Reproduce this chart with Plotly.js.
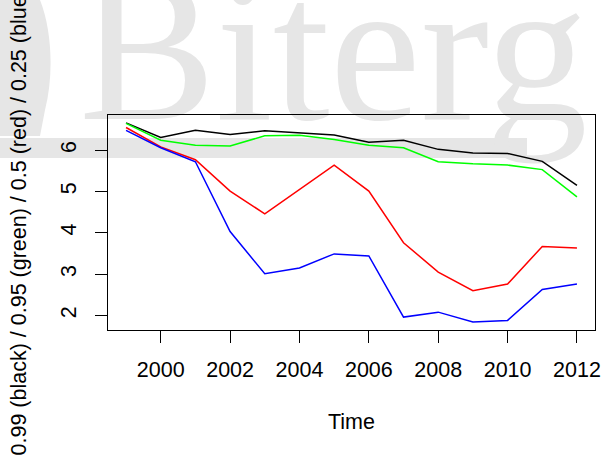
<!DOCTYPE html>
<html>
<head>
<meta charset="utf-8">
<script src="https://cdn.plot.ly/plotly-3.0.1.min.js"></script>
<style>
html,body{margin:0;padding:0;background:#fff;}
#chart{width:604px;height:456px;}
</style>
</head>
<body>
<div id="chart"></div>
<script>
// Data
var years = [1999,2000,2001,2002,2003,2004,2005,2006,2007,2008,2009,2010,2011,2012];
var q099 = [6.66,6.31,6.48,6.38,6.47,6.42,6.37,6.19,6.24,6.02,5.93,5.92,5.73,5.15];
var q095 = [6.65,6.24,6.12,6.10,6.35,6.36,6.26,6.12,6.06,5.72,5.67,5.64,5.53,4.87];
var q050 = [6.55,6.08,5.77,5.01,4.46,5.06,5.64,5.01,3.76,3.05,2.60,2.76,3.67,3.63];
var q025 = [6.48,6.06,5.72,4.03,3.01,3.15,3.49,3.44,1.96,2.08,1.84,1.88,2.63,2.76];
var xTicks = [2000,2002,2004,2006,2008,2010,2012];
var yTicks = [2,3,4,5,6];
var xTitle = 'Time';
var yTitle = '0.99 (black) / 0.95 (green) / 0.5 (red) / 0.25 (blue)';
var watermark = 'Biterg';

// plot-area geometry (pixels) for placing decorations
var L = 108, R = 9, T = 115, B = 126, W = 604, H = 456;
var pw = W - L - R, ph = H - T - B;
function px(x){ return (x - L) / pw; }
function py(y){ return (H - B - y) / ph; }

var font = '"Liberation Sans", Arial, Helvetica, sans-serif';
var fs = 21.5;
var grey = '#e6e6e6';

function mk(y, c){
  return {x: years, y: y, type: 'scatter', mode: 'lines',
          line: {color: c, width: 1.5}, hoverinfo: 'skip', showlegend: false};
}
var traces = [mk(q099,'#000000'), mk(q095,'#00ff00'), mk(q050,'#ff0000'), mk(q025,'#0000ff')];

var drop = 'M ' + px(0) + ' ' + py(0) + ' L ' + px(40) + ' ' + py(0) +
  ' C ' + px(52) + ' ' + py(30) + ', ' + px(54) + ' ' + py(75) + ', ' + px(45) + ' ' + py(110) +
  ' L ' + px(40) + ' ' + py(136) + ' L ' + px(0) + ' ' + py(136) + ' Z';

var layout = {
  width: W, height: H,
  margin: {l: L, r: R, t: T, b: B, pad: 0},
  paper_bgcolor: '#ffffff',
  plot_bgcolor: 'rgba(0,0,0,0)',
  font: {family: font, size: fs, color: '#000'},
  xaxis: {
    range: [1998.48, 2012.52], tickvals: xTicks, ticktext: xTicks.map(String),
    showgrid: false, zeroline: false, showline: true, mirror: true,
    linecolor: '#000', linewidth: 1, ticks: 'outside', ticklen: 12, tickcolor: '#000', tickwidth: 1,
    tickfont: {family: font, size: fs, color: '#000'}, ticklabelstandoff: 8
  },
  yaxis: {
    range: [1.648, 6.852], tickvals: yTicks, ticktext: yTicks.map(String),
    showgrid: false, zeroline: false, showline: true, mirror: true,
    linecolor: '#000', linewidth: 1, ticks: 'outside', ticklen: 12, tickcolor: '#000', tickwidth: 1,
    tickangle: -90, tickfont: {family: font, size: fs, color: '#000'}, ticklabelstandoff: 10
  },
  shapes: [
    {type: 'rect', xref: 'paper', yref: 'paper', x0: px(0), x1: px(527), y0: py(158), y1: py(138),
     fillcolor: grey, line: {width: 0}, layer: 'below'},
    {type: 'path', xref: 'paper', yref: 'paper', path: drop, fillcolor: grey, line: {width: 0}, layer: 'below'},
    {type: 'rect', xref: 'paper', yref: 'paper', x0: px(76), x1: px(760), y0: py(142), y1: py(-100),
     fillcolor: 'rgba(0,0,0,0)', line: {width: 0}, layer: 'below',
     label: {text: watermark, textposition: 'bottom left', padding: 0,
             font: {family: '"Liberation Serif", "Times New Roman", serif', size: 205, color: grey}}}
  ],
  annotations: [
    {text: xTitle, xref: 'paper', yref: 'paper', x: 0.5, y: 0, xanchor: 'center', yanchor: 'middle',
     yshift: -92, showarrow: false, font: {family: font, size: fs, color: '#000'}},
    {text: yTitle, xref: 'paper', yref: 'paper', x: 0, y: 0.5, xanchor: 'center', yanchor: 'middle',
     xshift: -90, textangle: -90, showarrow: false, font: {family: font, size: fs, color: '#000'}}
  ]
};

Plotly.newPlot('chart', traces, layout, {staticPlot: true, displayModeBar: false});
</script>
</body>
</html>
